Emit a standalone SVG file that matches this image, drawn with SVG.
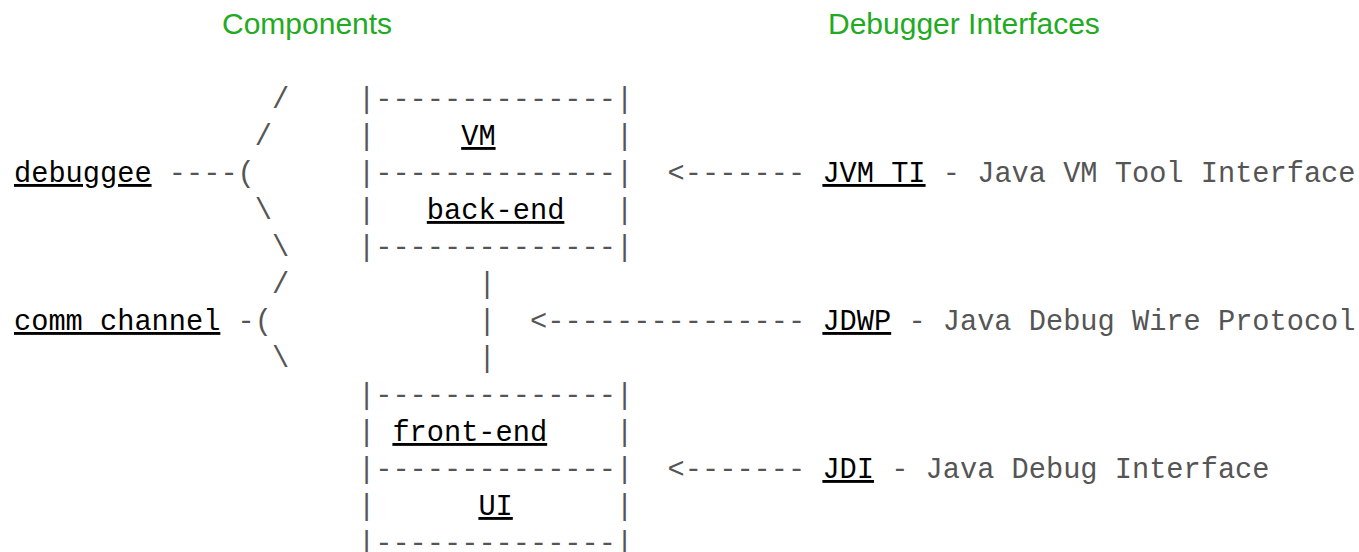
<svg xmlns="http://www.w3.org/2000/svg" width="1359" height="552" viewBox="0 0 1359 552">
<style>
text{font-family:"Liberation Mono","Courier New",monospace;font-size:28.667px}
.g{fill:#555555}
.k{fill:#000000;text-decoration:underline}
.h{font-family:"Liberation Sans",Arial,sans-serif;font-size:30px;fill:#22aa22}
</style>
<rect width="1359" height="552" fill="#ffffff"/>
<g id="headers">
<text class="h" x="222" y="34">Components</text>
<text class="h" x="828" y="34">Debugger Interfaces</text>
</g>
<g id="connectors">
<text class="g" x="272" y="108">/</text>
<text class="g" x="254.8" y="145">/</text>
<text class="g" x="168.8" y="182">----(</text>
<text class="g" x="254.8" y="219">\</text>
<text class="g" x="272" y="256">\</text>
<text class="g" x="272" y="293">/</text>
<text class="g" x="237.6" y="330">-(</text>
<text class="g" x="272" y="367">\</text>
<text class="g" x="478.4" y="293">|</text>
<text class="g" x="478.4" y="330">|</text>
<text class="g" x="478.4" y="367">|</text>
<text class="g" x="667.6" y="182">&lt;-------</text>
<text class="g" x="530" y="330">&lt;---------------</text>
<text class="g" x="667.6" y="478">&lt;-------</text>
</g>
<g id="debuggee">
<text class="k" x="14" y="182">debuggee</text>
</g>
<g id="comm-channel">
<text class="k" x="14" y="330">comm channel</text>
</g>
<g id="vm">
<text class="g" x="358" y="108">|--------------|</text>
<text class="g" x="358" y="145">|</text>
<text class="k" x="461.2" y="145">VM</text>
<text class="g" x="616" y="145">|</text>
<text class="g" x="358" y="182">|--------------|</text>
</g>
<g id="back-end">
<text class="g" x="358" y="219">|</text>
<text class="k" x="426.8" y="219">back-end</text>
<text class="g" x="616" y="219">|</text>
<text class="g" x="358" y="256">|--------------|</text>
</g>
<g id="front-end">
<text class="g" x="358" y="404">|--------------|</text>
<text class="g" x="358" y="441">|</text>
<text class="k" x="392.4" y="441">front-end</text>
<text class="g" x="616" y="441">|</text>
<text class="g" x="358" y="478">|--------------|</text>
</g>
<g id="ui">
<text class="g" x="358" y="515">|</text>
<text class="k" x="478.4" y="515">UI</text>
<text class="g" x="616" y="515">|</text>
<text class="g" x="358" y="552">|--------------|</text>
</g>
<g id="jvmti">
<text class="k" x="822.4" y="182">JVM TI</text>
<text class="g" x="942.8" y="182">- Java VM Tool Interface</text>
</g>
<g id="jdwp">
<text class="k" x="822.4" y="330">JDWP</text>
<text class="g" x="908.4" y="330">- Java Debug Wire Protocol</text>
</g>
<g id="jdi">
<text class="k" x="822.4" y="478">JDI</text>
<text class="g" x="891.2" y="478">- Java Debug Interface</text>
</g>
</svg>
